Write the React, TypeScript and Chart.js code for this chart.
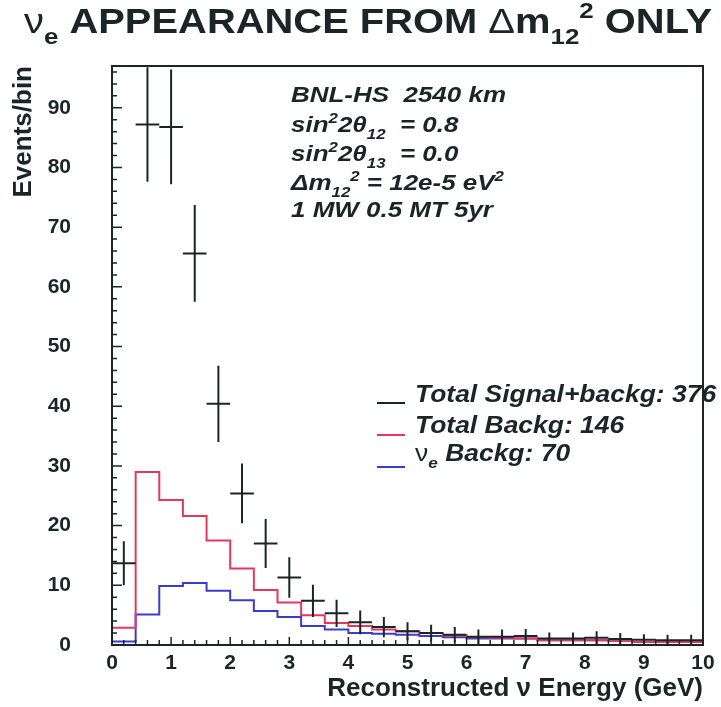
import React, { useEffect, useRef } from 'react';
import { Chart, registerables } from 'chart.js';

Chart.register(...registerables);

// ---- data ----
const binEdges = [0, 0.4, 0.8, 1.2, 1.6, 2.0, 2.4, 2.8, 3.2, 3.6, 4.0, 4.4, 4.8, 5.2, 5.6, 6.0, 6.4, 6.8, 7.2, 7.6, 8.0, 8.4, 8.8, 9.2, 9.6, 10.0];
const totalSignalBackg = [13.7, 87.2, 86.8, 65.6, 40.4, 25.4, 17.0, 11.3, 7.4, 5.3, 3.8, 3.0, 2.3, 2.0, 1.7, 1.4, 1.4, 1.5, 1.1, 1.1, 1.2, 1.0, 0.9, 0.8, 0.8];
const totalSignalErr = [3.7, 9.6, 9.6, 8.1, 6.4, 5.0, 4.1, 3.4, 2.7, 2.3, 2.0, 1.7, 1.5, 1.4, 1.3, 1.2, 1.2, 1.2, 1.0, 1.0, 1.1, 1.0, 0.9, 0.9, 0.9];
const totalBackg = [2.9, 29.0, 24.3, 21.6, 17.5, 12.8, 9.2, 7.1, 5.0, 3.7, 3.2, 2.6, 2.3, 2.0, 1.6, 1.3, 1.2, 1.1, 0.8, 0.8, 0.8, 0.7, 0.5, 0.5, 0.5];
const nueBackg = [0.6, 5.1, 9.9, 10.4, 9.1, 7.5, 5.7, 4.7, 3.2, 2.6, 2.0, 1.9, 1.7, 1.5, 1.3, 1.1, 1.1, 1.1, 0.8, 0.8, 0.8, 0.7, 0.5, 0.5, 0.5];
const xTickValues = [0, 1, 2, 3, 4, 5, 6, 7, 8, 9, 10];
const yTickValues = [0, 10, 20, 30, 40, 50, 60, 70, 80, 90];
const legendLabels = ['Total Signal+backg: 376', 'Total Backg: 146', 'Backg: 70'];

const FAM = "'Liberation Sans', Arial, Helvetica, sans-serif";
const C_BLACK = '#1b2525';
const C_RED = '#e6385f';
const C_BLUE = '#3a3ccc';

type Seg = { t: string; s?: 'sub' | 'sup'; bold?: boolean; italic?: boolean };

function richText(
  ctx: CanvasRenderingContext2D,
  segs: Seg[],
  x: number,
  y: number,
  size: number,
  opts: { bold: boolean; italic: boolean; sx?: number; fit?: number; color: string; subScale?: number }
) {
  const subScale = opts.subScale ?? 0.65;
  const fontFor = (seg: Seg) => {
    const sz = seg.s ? size * subScale : size;
    const b = seg.bold ?? opts.bold;
    const it = seg.italic ?? opts.italic;
    return `${it ? 'italic ' : ''}${b ? 'bold ' : ''}${sz}px ${FAM}`;
  };
  ctx.save();
  let total = 0;
  const widths = segs.map((seg) => {
    ctx.font = fontFor(seg);
    const w = ctx.measureText(seg.t).width;
    total += w;
    return w;
  });
  const sx = opts.fit ? opts.fit / total : opts.sx ?? 1;
  ctx.translate(x, y);
  ctx.scale(sx, 1);
  ctx.fillStyle = opts.color;
  ctx.textBaseline = 'alphabetic';
  ctx.textAlign = 'left';
  let cx = 0;
  segs.forEach((seg, i) => {
    ctx.font = fontFor(seg);
    const dy = seg.s === 'sub' ? size * 0.3 : seg.s === 'sup' ? -size * 0.42 : 0;
    ctx.fillText(seg.t, cx, dy);
    cx += widths[i];
  });
  ctx.restore();
}

const decorPlugin = {
  id: 'decor',
  afterDatasetsDraw(chart: any) {
    const ctx: CanvasRenderingContext2D = chart.ctx;
    const { left, right, top, bottom } = chart.chartArea;
    const xs = chart.scales.x;
    const ys = chart.scales.y;
    ctx.save();
    // frame
    ctx.strokeStyle = C_BLACK;
    ctx.lineWidth = 2;
    ctx.strokeRect(left, top, right - left, bottom - top);
    // inner ticks
    ctx.lineWidth = 1.5;
    ctx.beginPath();
    for (let k = 0; k <= 48; k++) {
      const v = k * 2;
      const py = ys.getPixelForValue(v);
      if (py < top) continue;
      const len = v % 10 === 0 ? 10 : 5;
      ctx.moveTo(left, py);
      ctx.lineTo(left + len, py);
    }
    for (let k = 0; k <= 50; k++) {
      const v = k * 0.2;
      const px = xs.getPixelForValue(v);
      const len = k % 5 === 0 ? 8 : 5;
      ctx.moveTo(px, bottom);
      ctx.lineTo(px, bottom - len);
    }
    ctx.stroke();
    ctx.restore();

    // title
    richText(
      ctx,
      [
        { t: 'ν', bold: false },
        { t: 'e', s: 'sub' },
        { t: ' APPEARANCE FROM ' },
        { t: 'Δ', bold: false },
        { t: 'm' },
        { t: '12', s: 'sub' },
        { t: '2', s: 'sup' },
        { t: ' ONLY' },
      ],
      24,
      33,
      35,
      { bold: true, italic: false, fit: 688, color: C_BLACK }
    );

    // parameter block
    const a = { bold: true, italic: true, sx: 1.18, color: C_BLACK };
    const ax = 291;
    richText(ctx, [{ t: 'BNL-HS  2540 km' }], ax, 102, 22, a);
    richText(ctx, [{ t: 'sin' }, { t: '2', s: 'sup' }, { t: '2θ' }, { t: '12', s: 'sub' }, { t: '  = 0.8' }], ax, 132, 22, a);
    richText(ctx, [{ t: 'sin' }, { t: '2', s: 'sup' }, { t: '2θ' }, { t: '13', s: 'sub' }, { t: '  = 0.0' }], ax, 161, 22, a);
    richText(ctx, [{ t: 'Δm', }, { t: '12', s: 'sub' }, { t: '2', s: 'sup' }, { t: ' = 12e-5 eV' }, { t: '2', s: 'sup' }], ax, 190, 22, a);
    richText(ctx, [{ t: '1 MW 0.5 MT 5yr' }], ax, 217, 22, a);

    // legend
    const lg = { bold: true, italic: true, sx: 1.15, color: C_BLACK };
    const legendRows = [
      { color: C_BLACK, ly: 403, by: 402, segs: [{ t: legendLabels[0] }] as Seg[] },
      { color: C_RED, ly: 435, by: 433, segs: [{ t: legendLabels[1] }] as Seg[] },
      { color: C_BLUE, ly: 467, by: 461, segs: [{ t: 'ν', italic: false, bold: false }, { t: 'e', s: 'sub' }, { t: ' ' + legendLabels[2] }] as Seg[] },
    ];
    ctx.save();
    ctx.lineWidth = 2;
    legendRows.forEach((r) => {
      ctx.strokeStyle = r.color;
      ctx.beginPath();
      ctx.moveTo(377, r.ly);
      ctx.lineTo(405, r.ly);
      ctx.stroke();
    });
    ctx.restore();
    legendRows.forEach((r) => richText(ctx, r.segs, 415, r.by, 23, lg));
  },
};

function histPoints(vals: number[]) {
  return binEdges.map((e, i) => ({ x: e, y: vals[Math.min(i, vals.length - 1)] }));
}

function crossPoints() {
  const pts: { x: number; y: number | null }[] = [];
  totalSignalBackg.forEach((v, i) => {
    const lo = binEdges[i];
    const hi = binEdges[i + 1];
    const c = (lo + hi) / 2;
    const e = totalSignalErr[i];
    pts.push({ x: lo, y: v }, { x: hi, y: v }, { x: hi, y: null }, { x: c, y: v - e }, { x: c, y: v + e }, { x: c, y: null });
  });
  return pts;
}

export default function App() {
  const ref = useRef<HTMLCanvasElement>(null);
  useEffect(() => {
    const canvas = ref.current;
    if (!canvas) return;
    const chart = new Chart(canvas, {
      type: 'line',
      data: {
        datasets: [
          {
            label: legendLabels[0],
            data: crossPoints() as any,
            borderColor: C_BLACK,
            borderWidth: 2,
            pointRadius: 0,
            spanGaps: false,
            fill: false,
          },
          {
            label: legendLabels[1],
            data: histPoints(totalBackg) as any,
            borderColor: C_RED,
            borderWidth: 2,
            pointRadius: 0,
            stepped: 'before',
            fill: false,
          },
          {
            label: legendLabels[2],
            data: histPoints(nueBackg) as any,
            borderColor: C_BLUE,
            borderWidth: 2,
            pointRadius: 0,
            stepped: 'before',
            fill: false,
          },
        ],
      },
      options: {
        animation: false,
        responsive: false,
        devicePixelRatio: 1,
        layout: { padding: { left: 0, top: 66, right: 18, bottom: 0 } },
        plugins: { legend: { display: false }, tooltip: { enabled: false }, title: { display: false } },
        scales: {
          x: {
            type: 'linear',
            min: 0,
            max: 10,
            grid: { display: false },
            border: { display: false },
            afterBuildTicks: (s: any) => {
              s.ticks = xTickValues.map((v) => ({ value: v }));
            },
            afterFit: (s: any) => {
              s.height = 62;
            },
            ticks: {
              autoSkip: false,
              maxRotation: 0,
              padding: -2,
              color: C_BLACK,
              font: { family: FAM, size: 21, weight: 'bold' },
            },
            title: {
              display: true,
              text: 'Reconstructed ν Energy (GeV)',
              align: 'end',
              color: C_BLACK,
              font: { family: FAM, size: 26, weight: 'bold' },
              padding: { top: 0, bottom: 3 },
            },
          },
          y: {
            type: 'linear',
            min: 0,
            max: 97,
            grid: { display: false },
            border: { display: false },
            afterBuildTicks: (s: any) => {
              s.ticks = yTickValues.map((v) => ({ value: v }));
            },
            afterFit: (s: any) => {
              s.width = 112;
            },
            ticks: {
              padding: 33,
              color: C_BLACK,
              font: { family: FAM, size: 21, weight: 'bold' },
            },
            title: {
              display: true,
              text: 'Events/bin',
              align: 'end',
              color: C_BLACK,
              font: { family: FAM, size: 26, weight: 'bold' },
              padding: { top: 8, bottom: 0 },
            },
          },
        },
      } as any,
      plugins: [decorPlugin],
    });
    return () => chart.destroy();
  }, []);
  return (
    <div style={{ position: 'fixed', left: 0, top: 0, width: 721, height: 707, background: '#ffffff' }}>
      <canvas ref={ref} width={721} height={707} style={{ display: 'block', width: 721, height: 707 }} />
    </div>
  );
}
